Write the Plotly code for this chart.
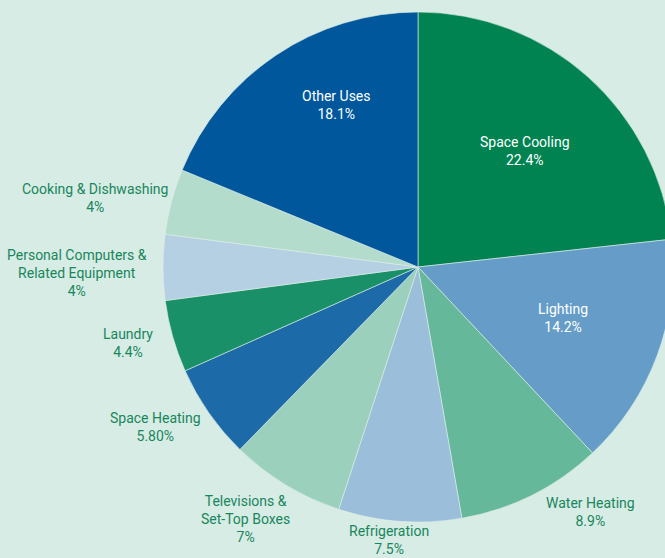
import plotly.graph_objects as go

labels = ["Space Cooling", "Lighting", "Water Heating", "Refrigeration",
          "Televisions &<br>Set-Top Boxes", "Space Heating", "Laundry",
          "Personal Computers &<br>Related Equipment", "Cooking & Dishwashing", "Other Uses"]
values = [22.4, 14.2, 8.9, 7.5, 7.0, 5.8, 4.4, 4.0, 4.0, 18.1]
pct_text = ["22.4%", "14.2%", "8.9%", "7.5%", "7%", "5.80%", "4.4%", "4%", "4%", "18.1%"]
colors = ["#008251", "#659dc8", "#66b89a", "#9bbfdb", "#9bd0bd",
          "#1c6aa8", "#1a9068", "#b5cfe3", "#b3dccd", "#00579c"]
inside = [True, True, False, False, False, False, False, False, False, True]
# label anchor positions (pixels) for each slice label
label_x = [525, 563, 590, 389, 245, 155, 128, 77, 95, 336]
label_y = [151, 318, 512, 540, 519, 427, 343, 273, 198, 105]

W, H = 680, 558
cx, cy, r = 418, 267, 255

fig = go.Figure(go.Pie(
    labels=labels, values=values, sort=False, direction="clockwise", rotation=0,
    marker=dict(colors=colors, line=dict(color="#dfeee8", width=0.6)),
    textinfo="none", hoverinfo="label+text", text=pct_text,
    domain=dict(x=[(cx - r) / W, (cx + r) / W], y=[(H - cy - r) / H, (H - cy + r) / H]),
    showlegend=False,
))

annotations = []
for lab, pt, ins, x, y in zip(labels, pct_text, inside, label_x, label_y):
    annotations.append(dict(
        x=x / W, y=1 - y / H, xref="paper", yref="paper",
        text=f"{lab}<br>{pt}", showarrow=False, align="center",
        xanchor="center", yanchor="middle",
        font=dict(family="Roboto, Liberation Sans, sans-serif",
                  size=14, color="#ffffff" if ins else "#17865c"),
    ))

fig.update_layout(
    width=W, height=H, margin=dict(l=0, r=0, t=0, b=0),
    paper_bgcolor="#d7ece5", plot_bgcolor="#d7ece5",
    annotations=annotations,
)

fig.write_html("out.html", config={"displayModeBar": False},
               post_script="document.body.style.overflow='hidden';document.body.style.margin='0';")
